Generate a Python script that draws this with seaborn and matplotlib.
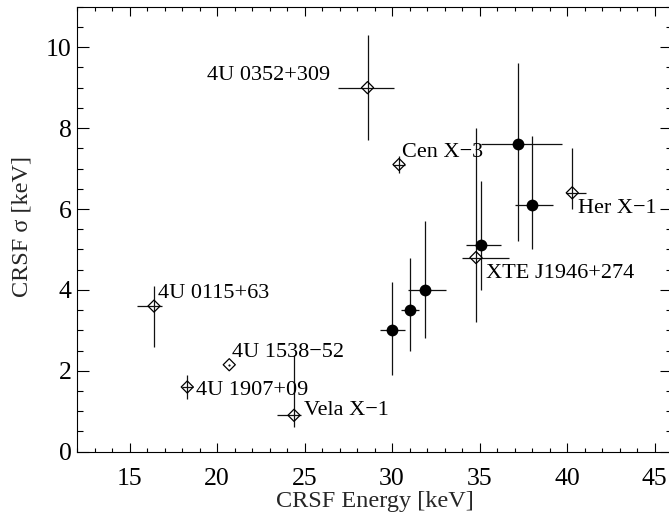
import numpy as np
import pandas as pd
import matplotlib
matplotlib.use('Agg')
import matplotlib.pyplot as plt
import seaborn as sns
from matplotlib.ticker import MultipleLocator

# ====================
#  DATA
# ====================

# open diamonds: individual sources
src_names = ["4U 0115+63", "4U 1907+09", "4U 1538\u221252", "Vela X\u22121",
             "4U 0352+309", "Cen X\u22123", "XTE J1946+274", "Her X\u22121"]
src_energy = [16.4, 18.3, 20.7, 24.4, 28.6, 30.4, 34.8, 40.3]
src_energy_lo = [1.0, 0.3, 0.05, 1.0, 1.7, 0.35, 0.8, 0.35]
src_energy_hi = [0.45, 0.3, 0.05, 0.4, 1.5, 0.35, 1.9, 0.8]
src_sigma = [3.6, 1.6, 2.15, 0.9, 9.0, 7.1, 4.8, 6.4]
src_sigma_lo = [1.0, 0.3, 0.03, 0.3, 1.3, 0.2, 1.6, 0.4]
src_sigma_hi = [0.5, 0.3, 0.03, 1.5, 1.3, 0.2, 3.2, 1.1]

# label anchor positions (data units)
label_x = [16.6, 18.8, 20.85, 24.95, 26.45, 30.55, 35.35, 40.6]
label_y = [3.79, 1.40, 2.35, 0.91, 9.18, 7.29, 4.29, 5.90]
label_ha = ["left", "left", "left", "left", "right", "left", "left", "left"]

# filled circles
fill_energy = [30.0, 31.0, 31.9, 35.1, 37.2, 38.0]
fill_energy_lo = [0.7, 0.5, 1.0, 0.9, 2.1, 1.0]
fill_energy_hi = [0.75, 0.55, 1.2, 1.1, 2.5, 1.2]
fill_sigma = [3.0, 3.5, 4.0, 5.1, 7.6, 6.1]
fill_sigma_lo = [1.1, 1.0, 1.2, 1.1, 2.4, 1.1]
fill_sigma_hi = [1.2, 1.3, 1.7, 1.6, 2.0, 1.7]

# ====================
#  PLOT
# ====================

def make_plot():
    sns.set_theme(style='ticks')
    plt.rcParams['font.family'] = ['Liberation Serif', 'DejaVu Serif']

    src = pd.DataFrame({'energy': src_energy, 'sigma': src_sigma})
    fill = pd.DataFrame({'energy': fill_energy, 'sigma': fill_sigma})

    fig = plt.figure(figsize=(6.69, 5.15), dpi=100)
    ax = fig.add_axes([0.1151, 0.1229, 0.8894, 0.864])

    lw = 0.9
    ax.errorbar(src_energy, src_sigma,
                xerr=[src_energy_lo, src_energy_hi],
                yerr=[src_sigma_lo, src_sigma_hi],
                fmt='none', ecolor='#111111', elinewidth=lw, capsize=0, zorder=2)
    ax.errorbar(fill_energy, fill_sigma,
                xerr=[fill_energy_lo, fill_energy_hi],
                yerr=[fill_sigma_lo, fill_sigma_hi],
                fmt='none', ecolor='#111111', elinewidth=lw, capsize=0, zorder=2)

    sns.scatterplot(data=src, x='energy', y='sigma', ax=ax, marker='D', s=38,
                    facecolor='none', edgecolor='black', linewidth=lw, zorder=3)
    sns.scatterplot(data=fill, x='energy', y='sigma', ax=ax, marker='o', s=72,
                    color='black', edgecolor='black', linewidth=0, zorder=3)

    for name, x, y, ha in zip(src_names, label_x, label_y, label_ha):
        ax.text(x, y, name, ha=ha, va='baseline', fontsize=16, color='black')

    ax.set_xlim(12, 46)
    ax.set_ylim(0, 11)
    ax.xaxis.set_major_locator(MultipleLocator(5))
    ax.xaxis.set_minor_locator(MultipleLocator(1))
    ax.yaxis.set_major_locator(MultipleLocator(2))
    ax.yaxis.set_minor_locator(MultipleLocator(0.5))

    ax.tick_params(axis='both', which='both', direction='in', top=True, right=True,
                   colors='black', width=0.8, labelsize=18.5)
    ax.tick_params(axis='x', which='major', length=6.5, pad=12)
    ax.tick_params(axis='x', which='minor', length=3.2)
    ax.tick_params(axis='y', which='major', length=8.6, pad=4)
    ax.tick_params(axis='y', which='minor', length=4.3)

    for sp in ax.spines.values():
        sp.set_linewidth(0.8)
        sp.set_color('black')

    ax.set_xlabel('CRSF Energy [keV]', fontsize=17.5)
    ax.set_ylabel('CRSF \u03c3 [keV]', fontsize=17.5)
    ax.xaxis.set_label_coords(0.5, -0.088)
    ax.yaxis.set_label_coords(-0.074, 0.507)

    fig.savefig('out.png', dpi=100)
    plt.close(fig)


def main():
    make_plot()


if __name__ == "__main__":
    main()
